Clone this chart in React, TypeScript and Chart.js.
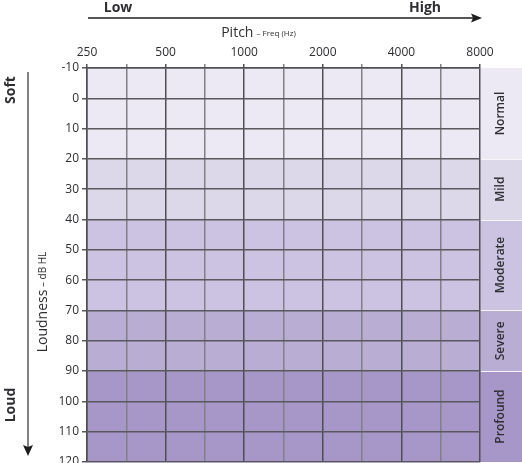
import React, { useEffect, useRef } from "react";
import { Chart, registerables } from "chart.js";

Chart.register(...registerables);

// ---- data ----
const freqLabels = ["250", "500", "1000", "2000", "4000", "8000"];
const dbMin = -10;
const dbMax = 120;
const dbStep = 10;
const bandNames = ["Normal", "Mild", "Moderate", "Severe", "Profound"];
const bandFrom = [-10, 20, 40, 70, 90];
const bandTo = [20, 40, 70, 90, 120];

// ---- styles ----
const bandColors = ["#ECE9F4", "#DCD7E9", "#CBC3E1", "#B9ADD4", "#A797C9"];
const FONT = "'Open Sans', 'Noto Sans', sans-serif";
const TEXT = "#2f2f33";

function rotText(ctx: CanvasRenderingContext2D, parts: { t: string; f: string }[], cx: number, cy: number) {
  ctx.save();
  ctx.translate(cx, cy);
  ctx.rotate(-Math.PI / 2);
  let total = 0;
  const widths = parts.map((p) => {
    ctx.font = p.f;
    const w = ctx.measureText(p.t).width;
    total += w;
    return w;
  });
  let x = -total / 2;
  ctx.textAlign = "left";
  ctx.textBaseline = "middle";
  parts.forEach((p, i) => {
    ctx.font = p.f;
    ctx.fillText(p.t, x, 0);
    x += widths[i];
  });
  ctx.restore();
}

const decorPlugin = {
  id: "decor",
  beforeDraw(chart: any) {
    const { ctx, chartArea, scales } = chart;
    const y = scales.y;
    ctx.save();
    bandNames.forEach((_, i) => {
      const y1 = y.getPixelForValue(bandFrom[i]);
      const y2 = y.getPixelForValue(bandTo[i]);
      ctx.fillStyle = bandColors[i];
      ctx.fillRect(chartArea.left, y1, chart.width - chartArea.left, y2 - y1);
    });
    ctx.strokeStyle = "#F7F6FA";
    ctx.lineWidth = 1;
    bandFrom.slice(1).forEach((v) => {
      const py = Math.round(y.getPixelForValue(v)) + 0.5;
      ctx.beginPath();
      ctx.moveTo(chartArea.right + 1, py);
      ctx.lineTo(chart.width, py);
      ctx.stroke();
    });
    ctx.restore();
  },
  afterDraw(chart: any) {
    const { ctx, chartArea, scales } = chart;
    const y = scales.y;
    ctx.save();
    ctx.fillStyle = TEXT;
    const colX = (chartArea.right + chart.width) / 2;
    bandNames.forEach((n, i) => {
      const cy = (y.getPixelForValue(bandFrom[i]) + y.getPixelForValue(bandTo[i])) / 2;
      rotText(ctx, [{ t: n, f: `600 12px ${FONT}` }], colX, cy);
    });
    // top arrow
    ctx.strokeStyle = "#1e1e1e";
    ctx.fillStyle = "#1e1e1e";
    ctx.lineWidth = 1.5;
    ctx.beginPath();
    ctx.moveTo(88, 18);
    ctx.lineTo(474, 18);
    ctx.stroke();
    ctx.beginPath();
    ctx.moveTo(482, 18);
    ctx.lineTo(471, 13.5);
    ctx.lineTo(473, 18);
    ctx.lineTo(471, 22.5);
    ctx.closePath();
    ctx.fill();
    // left arrow
    ctx.strokeStyle = "#5a5a5e";
    ctx.fillStyle = "#1e1e1e";
    ctx.lineWidth = 1.5;
    ctx.beginPath();
    ctx.moveTo(28, 72);
    ctx.lineTo(28, 448);
    ctx.stroke();
    ctx.beginPath();
    ctx.moveTo(28, 456);
    ctx.lineTo(23, 445);
    ctx.lineTo(28, 447);
    ctx.lineTo(33, 445);
    ctx.closePath();
    ctx.fill();
    // Low / High
    ctx.fillStyle = TEXT;
    ctx.font = `bold 14px ${FONT}`;
    ctx.textAlign = "center";
    ctx.textBaseline = "middle";
    ctx.fillText("Low", 118, 8);
    ctx.fillText("High", 425, 8);
    // Pitch title
    ctx.font = `14px ${FONT}`;
    const w1 = ctx.measureText("Pitch").width;
    ctx.font = `8px ${FONT}`;
    const w2 = ctx.measureText(" – Freq (Hz)").width;
    const sx = 258 - (w1 + w2) / 2;
    ctx.textAlign = "left";
    ctx.textBaseline = "alphabetic";
    ctx.font = `14px ${FONT}`;
    ctx.fillText("Pitch", sx, 37);
    ctx.font = `8px ${FONT}`;
    ctx.fillText(" – Freq (Hz)", sx + w1 + 1, 36);
    // Soft / Loud
    rotText(ctx, [{ t: "Soft", f: `bold 14px ${FONT}` }], 11, 90);
    rotText(ctx, [{ t: "Loud", f: `bold 14px ${FONT}` }], 11, 405);
    rotText(
      ctx,
      [
        { t: "Loudness", f: `14px ${FONT}` },
        { t: " – dB HL", f: `10px ${FONT}` },
      ],
      43,
      302
    );
    ctx.restore();
  },
};

export default function App() {
  const ref = useRef<HTMLCanvasElement>(null);
  useEffect(() => {
    document.body.style.margin = "0";
    const chart = new Chart(ref.current!, {
      type: "line",
      data: { datasets: [] },
      plugins: [decorPlugin],
      options: {
        responsive: false,
        animation: false,
        devicePixelRatio: 1,
        layout: { padding: { left: 0, right: 42, top: 0, bottom: 18 } },
        plugins: { legend: { display: false }, tooltip: { enabled: false } },
        scales: {
          x: {
            type: "linear",
            position: "top",
            min: 0,
            max: freqLabels.length - 1,
            afterBuildTicks: (scale: any) => {
              const t = [];
              for (let v = 0; v <= freqLabels.length - 1 + 1e-9; v += 0.5) t.push({ value: v });
              scale.ticks = t;
            },
            afterFit: (scale: any) => {
              scale.height = 68;
              scale.paddingLeft = 0;
              scale.paddingRight = 0;
            },
            ticks: {
              autoSkip: false,
              maxRotation: 0,
              padding: 4,
              color: TEXT,
              font: { family: FONT, size: 12 },
              callback: (v: any) => (Number.isInteger(v) ? freqLabels[v] : ""),
            },
            grid: {
              color: (c: any) => (Number.isInteger(c.tick?.value) ? "#4e4e53" : "#808086"),
              lineWidth: 1.5,
              tickLength: 4,
            },
            border: { display: true, color: "#4e4e53", width: 1.5 },
          },
          y: {
            type: "linear",
            reverse: true,
            min: dbMin,
            max: dbMax,
            afterFit: (scale: any) => {
              scale.width = 87;
              scale.paddingTop = 0;
              scale.paddingBottom = 0;
            },
            ticks: {
              stepSize: dbStep,
              padding: 3,
              color: TEXT,
              font: { family: FONT, size: 12 },
            },
            grid: { color: "#58585d", lineWidth: 1.5, tickLength: 5 },
            border: { display: true, color: "#4e4e53", width: 1.5 },
          },
        },
      },
    });
    return () => chart.destroy();
  }, []);
  return <canvas ref={ref} width={522} height={480} style={{ display: "block" }} />;
}
